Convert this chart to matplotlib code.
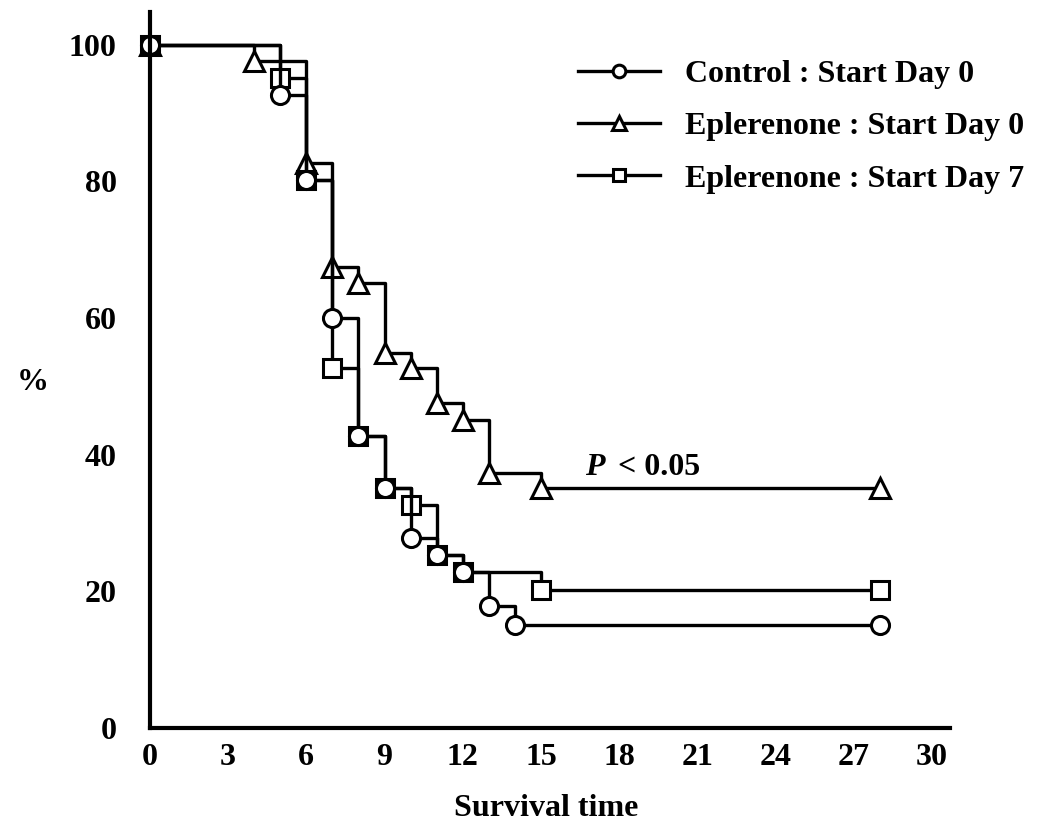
import matplotlib
matplotlib.use('Agg')
import matplotlib.pyplot as plt

# survival data (day, % surviving)
ctrl_days = [0, 5, 6, 7, 8, 9, 10, 11, 12, 13, 14, 28]
ctrl_pct = [100, 92.7, 80.2, 60.0, 42.7, 35.1, 27.8, 25.3, 22.9, 17.8, 15.1, 15.1]

ep0_days = [0, 4, 6, 7, 8, 9, 10, 11, 12, 13, 15, 28]
ep0_pct = [100, 97.6, 82.7, 67.5, 65.1, 54.9, 52.7, 47.6, 45.1, 37.3, 35.1, 35.1]

ep7_days = [0, 5, 6, 7, 8, 9, 10, 11, 12, 15, 28]
ep7_pct = [100, 95.1, 80.2, 52.7, 42.7, 35.1, 32.6, 25.3, 22.9, 20.2, 20.2]

labels = ['Control : Start Day 0', 'Eplerenone : Start Day 0', 'Eplerenone : Start Day 7']
xticks = [0, 3, 6, 9, 12, 15, 18, 21, 24, 27, 30]
yticks = [0, 20, 40, 60, 80, 100]

plt.rcParams['font.family'] = ['Liberation Serif', 'DejaVu Serif']
plt.rcParams['font.weight'] = 'bold'
fs = 23

fig = plt.figure(figsize=(10.57, 8.27), dpi=100)
ax = fig.add_axes([150/1057, 1-728/827, 800/1057, 716/827])

common = dict(where='post', color='black', lw=2.4, mfc='white', mec='black', mew=2.2, clip_on=False)
tri, = ax.step(ep0_days, ep0_pct, marker='^', ms=15, label=labels[1], **common)
sq, = ax.step(ep7_days, ep7_pct, marker='s', ms=13, label=labels[2], **common)
circ, = ax.step(ctrl_days, ctrl_pct, marker='o', ms=13, label=labels[0], **common)

ax.set_xlim(0, 30.7)
ax.set_ylim(0, 104.8)
ax.set_xticks(xticks)
ax.set_yticks(yticks)
ax.tick_params(length=0, labelsize=fs)
ax.tick_params(axis='x', pad=11)
ax.tick_params(axis='y', pad=24)
for s in ['top', 'right']:
    ax.spines[s].set_visible(False)
for s in ['left', 'bottom']:
    ax.spines[s].set_linewidth(3)

ax.set_xlabel('Survival time', fontsize=fs, fontweight='bold')
ax.xaxis.set_label_coords(0.495, -0.112)
ax.xaxis.label.set_va('center')
ax.set_ylabel('%', fontsize=fs, fontweight='bold', rotation=0)
ax.yaxis.set_label_coords(-0.146, 0.482)
ax.yaxis.label.set_va('center')
ax.yaxis.label.set_ha('center')

ax.text(16.69, 37.0, 'P', fontsize=fs, fontweight='bold', style='italic', va='baseline', ha='left')
ax.text(17.95, 37.0, '< 0.05', fontsize=fs, fontweight='bold', va='baseline', ha='left')

ax.legend(handles=[circ, tri, sq], loc='upper left', bbox_to_anchor=(0.547, 0.928),
          bbox_transform=fig.transFigure, frameon=False, borderpad=0, borderaxespad=0,
          handlelength=2.56, handletextpad=0.78, labelspacing=0.72, markerscale=0.7,
          prop={'size': fs, 'weight': 'bold'})

fig.savefig('out.png', dpi=100)
